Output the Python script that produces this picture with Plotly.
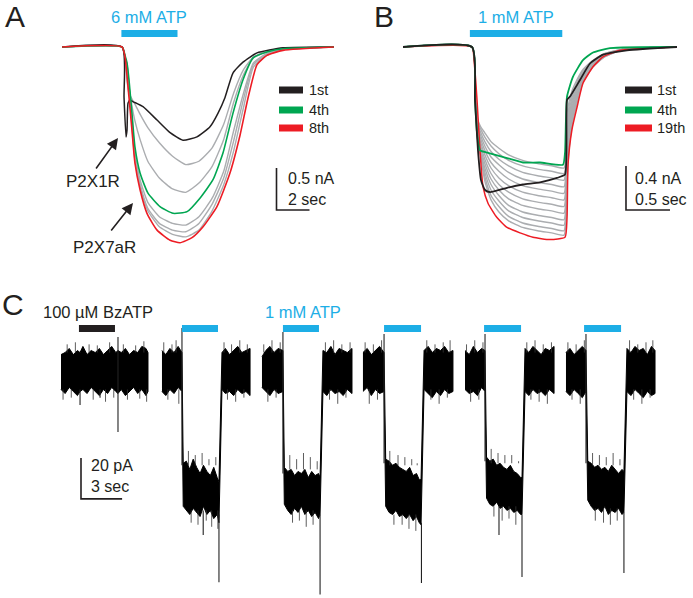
import plotly.graph_objects as go

W, H = 693, 598
FONT = "Liberation Sans, Arial, Helvetica, sans-serif"
CYAN = "#1DAEE6"
RED = "#ED1C24"
GREEN = "#00A651"
BLACK = "#231F20"
GRAY = "#ABADB0"

# ---------------- Panel A : 6 mM ATP (time s, current nA) ----------------
a_atp_on, a_atp_off = 3.6, 7.0
a_black_t = [0, 3.64, 3.76, 3.88, 3.94, 4.00, 4.12, 4.30, 4.91, 5.76, 6.55, 7.33, 8.18, 8.97, 9.45, 9.88, 10.36, 10.97, 11.82, 13.39, 16.48]
a_black_i = [0, 0, -0.60, -1.07, -0.99, -0.67, -0.63, -0.65, -0.71, -0.87, -1.02, -1.11, -1.07, -0.95, -0.79, -0.60, -0.31, -0.18, -0.07, -0.01, 0]
a_green_t = [0, 3.64, 3.82, 3.94, 4.06, 4.24, 4.42, 4.73, 5.21, 5.94, 6.73, 7.58, 8.36, 9.15, 9.76, 10.36, 10.97, 11.58, 12.42, 13.39, 16.48]
a_green_i = [0, 0, -0.10, -0.19, -0.39, -0.79, -1.19, -1.50, -1.74, -1.90, -1.98, -1.96, -1.80, -1.58, -1.26, -0.79, -0.39, -0.13, -0.06, -0.02, 0]
a_red_t = [0, 3.64, 3.82, 4.06, 4.24, 4.42, 4.73, 5.15, 5.76, 6.55, 7.15, 7.88, 8.55, 9.39, 10.18, 10.79, 11.27, 11.82, 12.42, 13.39, 16.48]
a_red_i = [0, 0, -0.12, -0.60, -0.99, -1.38, -1.70, -1.98, -2.18, -2.30, -2.33, -2.27, -2.14, -1.90, -1.50, -1.05, -0.61, -0.21, -0.10, -0.04, 0]
a_gray_t = [0, 3.64, 3.82, 3.94, 4.06, 4.24, 4.42, 4.73, 5.2, 5.9, 6.7, 7.5, 8.3, 9.1, 9.8, 10.4, 11.0, 11.6, 12.4, 13.4, 16.48]
a_gray2 = [0, 0, -0.12, -0.40, -0.55, -0.62, -0.68, -0.80, -0.96, -1.14, -1.30, -1.40, -1.36, -1.20, -0.92, -0.55, -0.27, -0.12, -0.05, -0.02, 0]
a_gray3 = [0, 0, -0.12, -0.30, -0.48, -0.70, -0.88, -1.10, -1.36, -1.56, -1.69, -1.73, -1.62, -1.42, -1.10, -0.66, -0.33, -0.13, -0.06, -0.02, 0]
a_gray5 = [0, 0, -0.12, -0.22, -0.45, -0.85, -1.27, -1.58, -1.85, -2.02, -2.10, -2.12, -2.02, -1.80, -1.48, -1.00, -0.55, -0.19, -0.08, -0.03, 0]
a_gray6 = [0, 0, -0.12, -0.21, -0.45, -0.90, -1.32, -1.63, -1.92, -2.10, -2.18, -2.20, -2.10, -1.87, -1.56, -1.12, -0.62, -0.21, -0.09, -0.03, 0]
a_gray7 = [0, 0, -0.12, -0.20, -0.50, -0.93, -1.35, -1.66, -1.95, -2.14, -2.23, -2.26, -2.18, -1.95, -1.64, -1.24, -0.72, -0.24, -0.10, -0.03, 0]
a_legend = ["1st", "4th", "8th"]
a_scale_nA, a_scale_s = 0.5, 2

# ---------------- Panel B : 1 mM ATP (time s, current nA) ----------------
b_atp_on, b_atp_off = 0.76, 1.81
b_black_t = [0, 0.784, 0.818, 0.852, 0.886, 0.932, 0.989, 1.182, 1.364, 1.557, 1.750, 1.841, 1.864, 1.898, 2.011, 2.125, 2.273, 2.545, 3.114]
b_black_i = [0, 0, -0.48, -0.94, -1.21, -1.30, -1.32, -1.28, -1.25, -1.23, -1.19, -1.16, -0.48, -0.45, -0.30, -0.15, -0.07, -0.03, 0]
b_green_t = [0, 0.784, 0.818, 0.841, 0.875, 0.955, 1.182, 1.364, 1.557, 1.818, 1.841, 1.864, 1.932, 2.045, 2.159, 2.352, 3.114]
b_green_i = [0, 0, -0.48, -0.78, -0.94, -0.96, -1.01, -1.05, -1.05, -1.07, -0.96, -0.45, -0.27, -0.12, -0.05, -0.01, 0]
b_red_t = [0, 0.784, 0.807, 0.841, 0.875, 0.909, 0.966, 1.068, 1.182, 1.330, 1.477, 1.670, 1.841, 1.864, 1.875, 1.920, 1.977, 2.045, 2.159, 2.273, 2.466, 3.114]
b_red_i = [0, 0, -0.12, -0.48, -0.94, -1.27, -1.42, -1.55, -1.64, -1.69, -1.73, -1.75, -1.73, -1.55, -1.07, -0.75, -0.55, -0.33, -0.18, -0.09, -0.03, 0]
b_gray_t = [0, 0.784, 0.82, 0.85, 0.88, 0.93, 1.0, 1.09, 1.2, 1.36, 1.53, 1.69, 1.83, 1.855, 1.875, 1.92, 1.975, 2.05, 2.16, 2.29, 2.51, 3.114]
b_gray01 = [0, 0, -0.46, -0.66, -0.72, -0.78, -0.86, -0.92, -0.98, -1.03, -1.06, -1.08, -1.10, -0.90, -0.55, -0.40, -0.30, -0.20, -0.12, -0.06, -0.02, 0]
b_gray02 = [0, 0, -0.45, -0.68, -0.74, -0.82, -0.90, -0.97, -1.03, -1.08, -1.11, -1.13, -1.15, -0.95, -0.60, -0.43, -0.32, -0.21, -0.13, -0.06, -0.02, 0]
b_gray03 = [0, 0, -0.44, -0.70, -0.77, -0.86, -0.95, -1.02, -1.08, -1.14, -1.17, -1.19, -1.21, -1.00, -0.65, -0.46, -0.34, -0.22, -0.13, -0.07, -0.02, 0]
b_gray04 = [0, 0, -0.43, -0.72, -0.80, -0.90, -1.00, -1.07, -1.14, -1.20, -1.23, -1.25, -1.27, -1.05, -0.70, -0.49, -0.36, -0.23, -0.14, -0.07, -0.02, 0]
b_gray05 = [0, 0, -0.42, -0.74, -0.83, -0.94, -1.05, -1.13, -1.20, -1.26, -1.29, -1.31, -1.33, -1.10, -0.75, -0.52, -0.38, -0.24, -0.14, -0.07, -0.02, 0]
b_gray06 = [0, 0, -0.40, -0.76, -0.86, -0.98, -1.10, -1.19, -1.26, -1.32, -1.35, -1.37, -1.39, -1.15, -0.80, -0.55, -0.40, -0.25, -0.15, -0.08, -0.02, 0]
b_gray07 = [0, 0, -0.39, -0.78, -0.89, -1.02, -1.15, -1.25, -1.32, -1.38, -1.41, -1.43, -1.45, -1.20, -0.85, -0.58, -0.42, -0.26, -0.15, -0.08, -0.02, 0]
b_gray08 = [0, 0, -0.37, -0.80, -0.92, -1.06, -1.20, -1.30, -1.38, -1.44, -1.47, -1.49, -1.51, -1.27, -0.90, -0.61, -0.44, -0.27, -0.16, -0.08, -0.02, 0]
b_gray09 = [0, 0, -0.35, -0.82, -0.94, -1.10, -1.25, -1.35, -1.44, -1.50, -1.53, -1.55, -1.57, -1.33, -0.95, -0.64, -0.46, -0.28, -0.16, -0.08, -0.02, 0]
b_gray10 = [0, 0, -0.34, -0.84, -0.96, -1.14, -1.30, -1.40, -1.49, -1.55, -1.58, -1.60, -1.62, -1.40, -1.00, -0.67, -0.48, -0.29, -0.17, -0.08, -0.02, 0]
b_gray11 = [0, 0, -0.32, -0.86, -0.97, -1.18, -1.35, -1.45, -1.54, -1.60, -1.63, -1.65, -1.67, -1.45, -1.03, -0.70, -0.50, -0.30, -0.17, -0.09, -0.02, 0]
b_gray12 = [0, 0, -0.30, -0.88, -0.98, -1.22, -1.39, -1.50, -1.58, -1.64, -1.67, -1.69, -1.71, -1.50, -1.06, -0.72, -0.52, -0.31, -0.18, -0.09, -0.02, 0]
b_legend = ["1st", "4th", "19th"]
b_scale_nA, b_scale_s = 0.4, 0.5

# ---------------- Panel C : single-cell recording (time s, current pA) ----------------
c_bz_on, c_bz_off = 1.31, 3.94
c_atp_on = [8.83, 16.20, 23.58, 30.88, 38.18]
c_atp_off = [11.46, 18.83, 26.28, 33.58, 40.88]
c_scale_pA, c_scale_s = 20, 3

c_s1_t = [0.00, 0.30, 0.60, 0.90, 1.20, 1.39, 1.60, 1.90, 2.20, 2.50, 2.80, 3.10, 3.40, 3.70, 4.00, 4.16, 4.40, 4.70, 5.00, 5.30, 5.60, 5.90, 6.20, 6.35]
c_s1_top = [8, 9, 11, 8, 10, 9, 12, 8, 10, 9, 11, 8, 10, 12, 9, 10, 9, 11, 8, 10, 9, 12, 11, 9]
c_s1_bot = [-9, -11, -8, -10, -12, -10, -9, -11, -8, -10, -12, -9, -11, -8, -10, -11, -9, -12, -10, -8, -11, -9, -12, -10]

c_s2_t = [7.37, 7.65, 7.95, 8.25, 8.55, 8.83, 8.92, 9.15, 9.40, 9.65, 9.90, 10.15, 10.40, 10.65, 10.90, 11.15, 11.40, 11.53, 11.75, 12.00, 12.30, 12.60, 12.90, 13.20, 13.50, 13.80]
c_s2_top = [10, 8, 11, 9, 12, 9, -45, -44, -48, -43, -47, -50, -46, -49, -51, -47, -52, -54, 9, 11, 8, 10, 12, 9, 10, 11]
c_s2_bot = [-10, -12, -9, -11, -8, -10, -66, -68, -70, -67, -69, -71, -66, -70, -68, -72, -70, -74, -9, -11, -10, -12, -9, -11, -10, -12]

c_s3_t = [14.67, 14.95, 15.25, 15.55, 15.85, 16.20, 16.30, 16.55, 16.80, 17.05, 17.30, 17.55, 17.80, 18.05, 18.30, 18.55, 18.80, 18.91, 19.12, 19.40, 19.70, 20.00, 20.30, 20.60, 20.90, 21.24]
c_s3_top = [7, 10, 12, 9, 11, 10, -47, -49, -48, -51, -49, -50, -48, -52, -49, -51, -50, -52, 10, 9, 12, 8, 11, 10, 9, 11]
c_s3_bot = [-8, -10, -12, -9, -11, -10, -65, -68, -70, -67, -69, -66, -70, -68, -71, -69, -72, -70, -10, -12, -9, -11, -10, -12, -9, -11]

c_s4_t = [22.04, 22.35, 22.65, 22.95, 23.25, 23.58, 23.70, 23.95, 24.20, 24.45, 24.70, 24.95, 25.20, 25.45, 25.70, 25.95, 26.15, 26.28, 26.50, 26.80, 27.10, 27.40, 27.70, 28.00, 28.30, 28.61]
c_s4_top = [9, 11, 8, 10, 12, 9, -43, -44, -46, -45, -47, -48, -49, -47, -51, -50, -53, -53, 10, 12, 9, 11, 10, 12, 9, 10]
c_s4_bot = [-10, -8, -12, -9, -11, -10, -66, -69, -70, -68, -71, -70, -72, -70, -73, -71, -74, -75, -9, -11, -13, -10, -12, -9, -11, -10]

c_s5_t = [29.49, 29.80, 30.10, 30.40, 30.70, 30.95, 31.06, 31.30, 31.55, 31.80, 32.05, 32.30, 32.55, 32.80, 33.05, 33.30, 33.55, 33.65, 33.87, 34.15, 34.45, 34.75, 35.05, 35.35, 35.65, 35.99]
c_s5_top = [10, 8, 12, 9, 11, 10, -42, -44, -43, -46, -45, -47, -48, -46, -49, -50, -52, -52, 11, 9, 12, 10, 8, 11, 10, 12]
c_s5_bot = [-9, -11, -10, -12, -8, -10, -62, -65, -66, -64, -67, -66, -68, -67, -69, -68, -70, -70, -10, -12, -9, -11, -10, -12, -9, -11]

c_s6_t = [36.86, 37.15, 37.45, 37.75, 38.05, 38.32, 38.45, 38.70, 38.95, 39.20, 39.45, 39.70, 39.95, 40.20, 40.45, 40.70, 40.95, 41.09, 41.31, 41.60, 41.90, 42.20, 42.50, 42.80, 43.10, 43.36]
c_s6_top = [9, 11, 8, 10, 12, 10, -44, -45, -47, -46, -48, -47, -49, -46, -48, -50, -48, -49, 11, 9, 12, 10, 11, 8, 12, 10]
c_s6_bot = [-10, -12, -9, -11, -13, -10, -63, -66, -68, -67, -69, -66, -70, -68, -69, -67, -70, -69, -10, -12, -9, -11, -13, -10, -12, -11]

# large transients: time, from-value, to-value (pA)
c_spike_t = [1.39, 2.85, 4.16, 8.83, 10.38, 11.53, 16.20, 18.91, 23.58, 26.31, 30.95, 31.97, 33.65, 38.32, 41.09]
c_spike_from = [-9, -9, 16.6, 21, -68, -70, 19, -70, 18, -74, 18, -66, -70, 18, -69]
c_spike_to = [-16.6, -13, -29.8, -46, -80, -103, -50, -109, -45, -103.4, -44, -80, -100.5, -45, -98.5]

# small noise excursions at the band edges: time, from-value, to-value (pA)
c_hair_t = [0.45, 1.05, 2.05, 2.65, 3.55, 4.55, 5.45, 6.05, 0.15, 0.75, 2.35, 3.25, 3.85, 4.85, 5.75, 6.25,
            7.5, 8.1, 8.4, 7.8, 8.6, 9.3, 9.8, 10.3, 10.8, 11.3, 9.5, 10.0, 10.6, 11.0, 11.45, 11.9, 12.45, 13.05, 13.6, 12.15, 12.75, 13.35,
            14.8, 15.4, 16.0, 15.1, 15.7, 16.7, 17.2, 17.7, 18.2, 18.7, 16.9, 17.4, 17.9, 18.4, 19.3, 19.9, 20.5, 21.1, 19.6, 20.2, 20.8,
            22.2, 22.8, 23.4, 22.5, 23.1, 24.0, 24.6, 25.1, 25.6, 26.0, 24.3, 24.9, 25.4, 25.9, 26.7, 27.3, 27.9, 28.4, 27.0, 27.6, 28.2,
            29.6, 30.2, 30.8, 29.9, 30.5, 31.4, 31.9, 32.4, 32.9, 33.4, 31.6, 32.2, 32.7, 33.2, 34.0, 34.6, 35.2, 35.8, 34.3, 34.9, 35.5,
            37.0, 37.6, 38.2, 37.3, 37.9, 38.8, 39.3, 39.8, 40.3, 40.8, 39.0, 39.6, 40.1, 40.6, 41.5, 42.1, 42.7, 43.2, 41.8, 42.4, 43.0]
c_hair_from = [9] * 8 + [-9] * 8 + [9] * 3 + [-9] * 2 + [-46] * 5 + [-68] * 5 + [9] * 4 + [-9] * 3 \
    + [9] * 3 + [-9] * 2 + [-48] * 5 + [-68] * 4 + [9] * 4 + [-9] * 3 \
    + [9] * 3 + [-9] * 2 + [-46] * 5 + [-70] * 4 + [9] * 4 + [-9] * 3 \
    + [9] * 3 + [-9] * 2 + [-45] * 5 + [-66] * 4 + [9] * 4 + [-9] * 3 \
    + [9] * 3 + [-9] * 2 + [-46] * 5 + [-67] * 4 + [9] * 4 + [-9] * 3
c_hair_to = [13, 14, 13, 12.5, 14, 13, 12.5, 14.5, -14, -13, -14, -15, -13, -14, -13.5, -15,
             14, 13, 15, -14, -16, -39, -41, -40, -43, -42, -74, -75, -73, -76, -77, 14, 13, 15, 13, -14, -15, -13,
             13, 15, 14, -15, -13, -41, -43, -40, -42, -44, -74, -73, -76, -75, 14, 15, 13, 14, -14, -16, -13,
             14, 13, 15, -16, -14, -39, -41, -42, -43, -45, -75, -75, -77, -78, 15, 13, 14, 15, -14, -16, -13,
             13, 15, 14, -15, -14, -38, -40, -41, -41, -44, -71, -73, -72, -75, 14, 15, 13, 14, -14, -15, -16,
             14, 13, 15, -14, -16, -40, -41, -42, -40, -43, -73, -74, -75, -73, 15, 13, 14, 15, -14, -16, -13]


def px(x):
    return x / W


def py(y):
    return 1 - y / H


fig = go.Figure()


def add_line(t, i, color, width, xa, ya):
    fig.add_trace(go.Scatter(x=t, y=i, mode="lines", xaxis=xa, yaxis=ya,
                             line=dict(color=color, width=width, shape="spline", smoothing=0.5),
                             hoverinfo="skip", showlegend=False))


# Panel A
for g in [a_gray2, a_gray3, a_gray5, a_gray6, a_gray7]:
    add_line(a_gray_t, g, GRAY, 1.4, "x", "y")
add_line(a_black_t, a_black_i, BLACK, 1.5, "x", "y")
add_line(a_green_t, a_green_i, GREEN, 1.6, "x", "y")
add_line(a_red_t, a_red_i, RED, 1.6, "x", "y")

# Panel B
for g in [b_gray01, b_gray02, b_gray03, b_gray04, b_gray05, b_gray06,
          b_gray07, b_gray08, b_gray09, b_gray10, b_gray11, b_gray12]:
    add_line(b_gray_t, g, GRAY, 1.4, "x2", "y2")
add_line(b_red_t, b_red_i, RED, 1.5, "x2", "y2")
add_line(b_green_t, b_green_i, GREEN, 1.8, "x2", "y2")
add_line(b_black_t, b_black_i, BLACK, 1.8, "x2", "y2")

# Panel C noise bands
for t, top, bot in [(c_s1_t, c_s1_top, c_s1_bot), (c_s2_t, c_s2_top, c_s2_bot),
                    (c_s3_t, c_s3_top, c_s3_bot), (c_s4_t, c_s4_top, c_s4_bot),
                    (c_s5_t, c_s5_top, c_s5_bot), (c_s6_t, c_s6_top, c_s6_bot)]:
    fig.add_trace(go.Scatter(x=t + t[::-1], y=top + bot[::-1], mode="lines", fill="toself",
                             fillcolor="black", line=dict(color="black", width=1),
                             xaxis="x3", yaxis="y3", hoverinfo="skip", showlegend=False))


def vlines(ts, a_vals, b_vals, width, color):
    sx, sy = [], []
    for t, a, b in zip(ts, a_vals, b_vals):
        sx += [t, t, None]
        sy += [a, b, None]
    fig.add_trace(go.Scatter(x=sx, y=sy, mode="lines", line=dict(color=color, width=width),
                             xaxis="x3", yaxis="y3", hoverinfo="skip", showlegend=False))


vlines(c_hair_t, c_hair_from, c_hair_to, 0.8, "#333")
vlines(c_spike_t, c_spike_from, c_spike_to, 1.1, "#222")

shapes = []
ann = []

# application bars
shapes.append(dict(type="rect", xref="x", yref="paper", x0=a_atp_on, x1=a_atp_off,
                   y0=py(37), y1=py(30), fillcolor=CYAN, line=dict(width=0)))
shapes.append(dict(type="rect", xref="x2", yref="paper", x0=b_atp_on, x1=b_atp_off,
                   y0=py(37), y1=py(30), fillcolor=CYAN, line=dict(width=0)))
shapes.append(dict(type="rect", xref="x3", yref="paper", x0=c_bz_on, x1=c_bz_off,
                   y0=py(332), y1=py(325), fillcolor=BLACK, line=dict(width=0)))
for on, off in zip(c_atp_on, c_atp_off):
    shapes.append(dict(type="rect", xref="x3", yref="paper", x0=on, x1=off,
                       y0=py(332), y1=py(325), fillcolor=CYAN, line=dict(width=0)))


# scale bars (L shaped)
def scalebar(xa, ya, x0, y0, dx, dy):
    shapes.append(dict(type="path", xref=xa, yref=ya,
                       path=f"M {x0} {y0 + dy} L {x0} {y0} L {x0 + dx} {y0}",
                       line=dict(color=BLACK, width=1.6)))


scalebar("x", "y", 13.0, -1.94, a_scale_s, a_scale_nA)
scalebar("x2", "y2", 2.534, -1.482, b_scale_s, b_scale_nA)
scalebar("x3", "y3", 1.46, -62.4, c_scale_s, c_scale_pA)


def text(s, x, y, size, color=BLACK, xanchor="center", align="center"):
    ann.append(dict(text=s, x=px(x), y=py(y), xref="paper", yref="paper", showarrow=False,
                    xanchor=xanchor, yanchor="middle", borderpad=0, align=align,
                    font=dict(family=FONT, size=size, color=color)))


# scale labels (two lines each)
text(f"{a_scale_nA} nA<br>{a_scale_s} sec", 287, 189, 16, xanchor="left", align="left")
text(f"{b_scale_nA} nA<br>{b_scale_s} sec", 634, 189, 16, xanchor="left", align="left")
text(f"{c_scale_pA} pA<br>{c_scale_s} sec", 90, 476, 16, xanchor="left", align="left")

# legends
for k, (lab, col) in enumerate(zip(a_legend, [BLACK, GREEN, RED])):
    yc = [90, 110, 128][k]
    shapes.append(dict(type="rect", xref="paper", yref="paper", x0=px(279), x1=px(303),
                       y0=py(yc + 3.5), y1=py(yc - 3.5), fillcolor=col, line=dict(width=0)))
    text(lab, 308, yc, 14.5, xanchor="left")
for k, (lab, col) in enumerate(zip(b_legend, [BLACK, GREEN, RED])):
    yc = [90, 110, 128][k]
    shapes.append(dict(type="rect", xref="paper", yref="paper", x0=px(625), x1=px(652),
                       y0=py(yc + 3.5), y1=py(yc - 3.5), fillcolor=col, line=dict(width=0)))
    text(lab, 656, yc, 14.5, xanchor="left")

# titles / labels
text("A", 15, 17, 30)
text("B", 384, 17, 30)
text("C", 13, 304, 30)
text("6 mM ATP", 149, 17, 16.5, CYAN)
text("1 mM ATP", 516, 17, 16.5, CYAN)
text("1 mM ATP", 303, 312, 16.5, CYAN)
text("100 µM BzATP", 98, 312, 16.5)
text("P2X1R", 93, 181, 17)
text("P2X7aR", 104, 247, 17)

# arrows
for hx, hy, tx, ty in [(118, 138, 95, 170), (133, 203, 110, 232)]:
    ann.append(dict(text="", x=px(hx), y=py(hy), xref="paper", yref="paper", showarrow=True,
                    ax=tx - hx, ay=ty - hy, arrowhead=2, arrowsize=1.4, arrowwidth=1.6,
                    arrowcolor=BLACK))

hidden = dict(visible=False, showgrid=False, zeroline=False, fixedrange=True)
fig.update_layout(
    width=W, height=H, margin=dict(l=0, r=0, t=0, b=0),
    paper_bgcolor="white", plot_bgcolor="rgba(0,0,0,0)",
    showlegend=False, shapes=shapes, annotations=ann, hovermode=False,
    xaxis=dict(domain=[px(62), px(334)], range=[0, 272 / 16.5], anchor="y", **hidden),
    yaxis=dict(domain=[py(250), py(30)], range=[-(250 - 47) / 84, (47 - 30) / 84], anchor="x", **hidden),
    xaxis2=dict(domain=[px(403), px(677)], range=[0, 274 / 88], anchor="y2", **hidden),
    yaxis2=dict(domain=[py(250), py(30)], range=[-(250 - 47) / 110, (47 - 30) / 110], anchor="x2", **hidden),
    xaxis3=dict(domain=[px(55), px(665)], range=[(55 - 61) / 13.7, (665 - 61) / 13.7], anchor="y3", **hidden),
    yaxis3=dict(domain=[0, py(300)], range=[-(598 - 371) / 2.05, (371 - 300) / 2.05], anchor="x3", **hidden),
)

# remove the page's default 8 px body margin so the figure fills the window exactly
fig.write_html("out.html", config={"displayModeBar": False},
               post_script="document.body.style.margin='0px';")
